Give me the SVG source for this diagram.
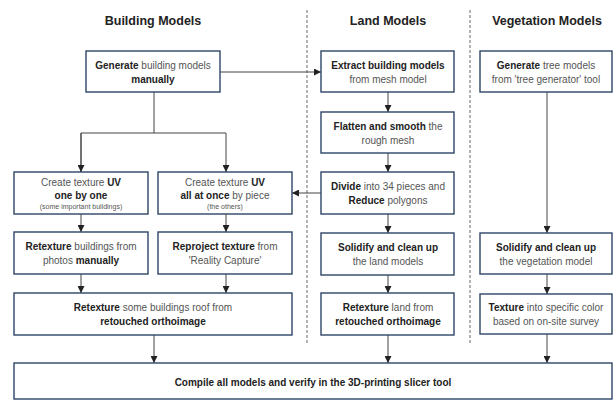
<svg xmlns="http://www.w3.org/2000/svg" width="614" height="400" viewBox="0 0 614 400">
<defs>
<marker id="ah" markerUnits="userSpaceOnUse" markerWidth="7" markerHeight="7" viewBox="0 0 7 7" refX="7" refY="3.5" orient="auto">
<path d="M0,0 L7,3.5 L0,7 Z" fill="#222"/>
</marker>
<style>
.box{fill:#fff;stroke:#2e4566;stroke-width:1.4}
.t{font-family:"Liberation Sans",Arial,sans-serif;font-size:10px;fill:#555;text-anchor:middle}
.b{font-weight:bold;fill:#222}
.s{font-size:7px}
.h{font-family:"Liberation Sans",Arial,sans-serif;font-size:12.5px;font-weight:bold;fill:#222;text-anchor:middle}
.c{fill:none;stroke:#444;stroke-width:1}
.d{fill:none;stroke:#555;stroke-width:0.9;stroke-dasharray:3,2}
</style>
</defs>
<rect width="614" height="400" fill="#fff"/>
<g id="dividers">
<line class="d" x1="307" y1="10" x2="307" y2="345"/>
<line class="d" x1="470" y1="10" x2="470" y2="345"/>
</g>
<g id="titles">
<text class="h" x="153" y="25">Building Models</text>
<text class="h" x="388" y="25">Land Models</text>
<text class="h" x="547" y="25">Vegetation Models</text>
</g>
<g id="connectors">
<line class="c" x1="220" y1="72" x2="321" y2="72" marker-end="url(#ah)"/>
<polyline class="c" points="154,92 154,133"/>
<polyline class="c" points="81,172 81,133 226,133 226,172" marker-end="url(#ah)"/>
<line class="c" x1="81" y1="133" x2="81" y2="172" marker-end="url(#ah)"/>
<line class="c" x1="81" y1="214" x2="81" y2="232" marker-end="url(#ah)"/>
<line class="c" x1="226" y1="214" x2="226" y2="232" marker-end="url(#ah)"/>
<line class="c" x1="81" y1="274" x2="81" y2="293" marker-end="url(#ah)"/>
<line class="c" x1="226" y1="274" x2="226" y2="293" marker-end="url(#ah)"/>
<line class="c" x1="154" y1="335" x2="154" y2="363" marker-end="url(#ah)"/>
<line class="c" x1="388" y1="92" x2="388" y2="112" marker-end="url(#ah)"/>
<line class="c" x1="388" y1="153" x2="388" y2="172" marker-end="url(#ah)"/>
<line class="c" x1="388" y1="214" x2="388" y2="233" marker-end="url(#ah)"/>
<line class="c" x1="388" y1="275" x2="388" y2="293" marker-end="url(#ah)"/>
<line class="c" x1="388" y1="335" x2="388" y2="363" marker-end="url(#ah)"/>
<line class="c" x1="321" y1="193" x2="292" y2="193" marker-end="url(#ah)"/>
<line class="c" x1="547" y1="92" x2="547" y2="233" marker-end="url(#ah)"/>
<line class="c" x1="547" y1="274" x2="547" y2="294" marker-end="url(#ah)"/>
<line class="c" x1="547" y1="334" x2="547" y2="363" marker-end="url(#ah)"/>
</g>
<g id="gen-building">
<rect class="box" x="86" y="51" width="134" height="41"/>
<text class="t" x="153" y="69"><tspan class="b">Generate</tspan> building models</text>
<text class="t b" x="153" y="83">manually</text>
</g>
<g id="uv-one">
<rect class="box" x="14" y="172" width="134" height="42"/>
<text class="t" x="81" y="186">Create texture <tspan class="b">UV</tspan></text>
<text class="t b" x="81" y="199">one by one</text>
<text class="t s" x="81" y="209">(some important buildings)</text>
</g>
<g id="uv-all">
<rect class="box" x="158" y="172" width="134" height="42"/>
<text class="t" x="225" y="186">Create texture <tspan class="b">UV</tspan></text>
<text class="t" x="225" y="199"><tspan class="b">all at once</tspan> by piece</text>
<text class="t s" x="225" y="209">(the others)</text>
</g>
<g id="retex-buildings">
<rect class="box" x="14" y="232" width="134" height="42"/>
<text class="t" x="81" y="250"><tspan class="b">Retexture</tspan> buildings from</text>
<text class="t" x="81" y="264">photos <tspan class="b">manually</tspan></text>
</g>
<g id="reproject">
<rect class="box" x="158" y="232" width="134" height="42"/>
<text class="t" x="225" y="250"><tspan class="b">Reproject texture</tspan> from</text>
<text class="t" x="225" y="264">'Reality Capture'</text>
</g>
<g id="retex-roof">
<rect class="box" x="14" y="293" width="278" height="42"/>
<text class="t" x="153" y="311"><tspan class="b">Retexture</tspan> some buildings roof from</text>
<text class="t b" x="153" y="325">retouched orthoimage</text>
</g>
<g id="extract">
<rect class="box" x="321" y="51" width="133" height="41"/>
<text class="t b" x="388" y="69">Extract building models</text>
<text class="t" x="388" y="83">from mesh model</text>
</g>
<g id="flatten">
<rect class="box" x="321" y="112" width="133" height="41"/>
<text class="t" x="388" y="130"><tspan class="b">Flatten and smooth</tspan> the</text>
<text class="t" x="388" y="144">rough mesh</text>
</g>
<g id="divide">
<rect class="box" x="321" y="172" width="133" height="42"/>
<text class="t" x="388" y="190"><tspan class="b">Divide</tspan> into 34 pieces and</text>
<text class="t" x="388" y="204"><tspan class="b">Reduce</tspan> polygons</text>
</g>
<g id="solidify-land">
<rect class="box" x="321" y="233" width="133" height="42"/>
<text class="t b" x="388" y="251">Solidify and clean up</text>
<text class="t" x="388" y="265">the land models</text>
</g>
<g id="retex-land">
<rect class="box" x="321" y="293" width="133" height="42"/>
<text class="t" x="388" y="311"><tspan class="b">Retexture</tspan> land from</text>
<text class="t b" x="388" y="325">retouched orthoimage</text>
</g>
<g id="gen-tree">
<rect class="box" x="480" y="51" width="132" height="41"/>
<text class="t" x="546" y="69"><tspan class="b">Generate</tspan> tree models</text>
<text class="t" x="546" y="83">from 'tree generator' tool</text>
</g>
<g id="solidify-veg">
<rect class="box" x="480" y="233" width="132" height="41"/>
<text class="t b" x="546" y="251">Solidify and clean up</text>
<text class="t" x="546" y="265">the vegetation model</text>
</g>
<g id="texture-veg">
<rect class="box" x="480" y="294" width="132" height="40"/>
<text class="t" x="546" y="311"><tspan class="b">Texture</tspan> into specific color</text>
<text class="t" x="546" y="325">based on on-site survey</text>
</g>
<g id="compile">
<rect class="box" x="14" y="363" width="598" height="36"/>
<text class="t b" x="313" y="386">Compile all models and verify in the 3D-printing slicer tool</text>
</g>
</svg>
